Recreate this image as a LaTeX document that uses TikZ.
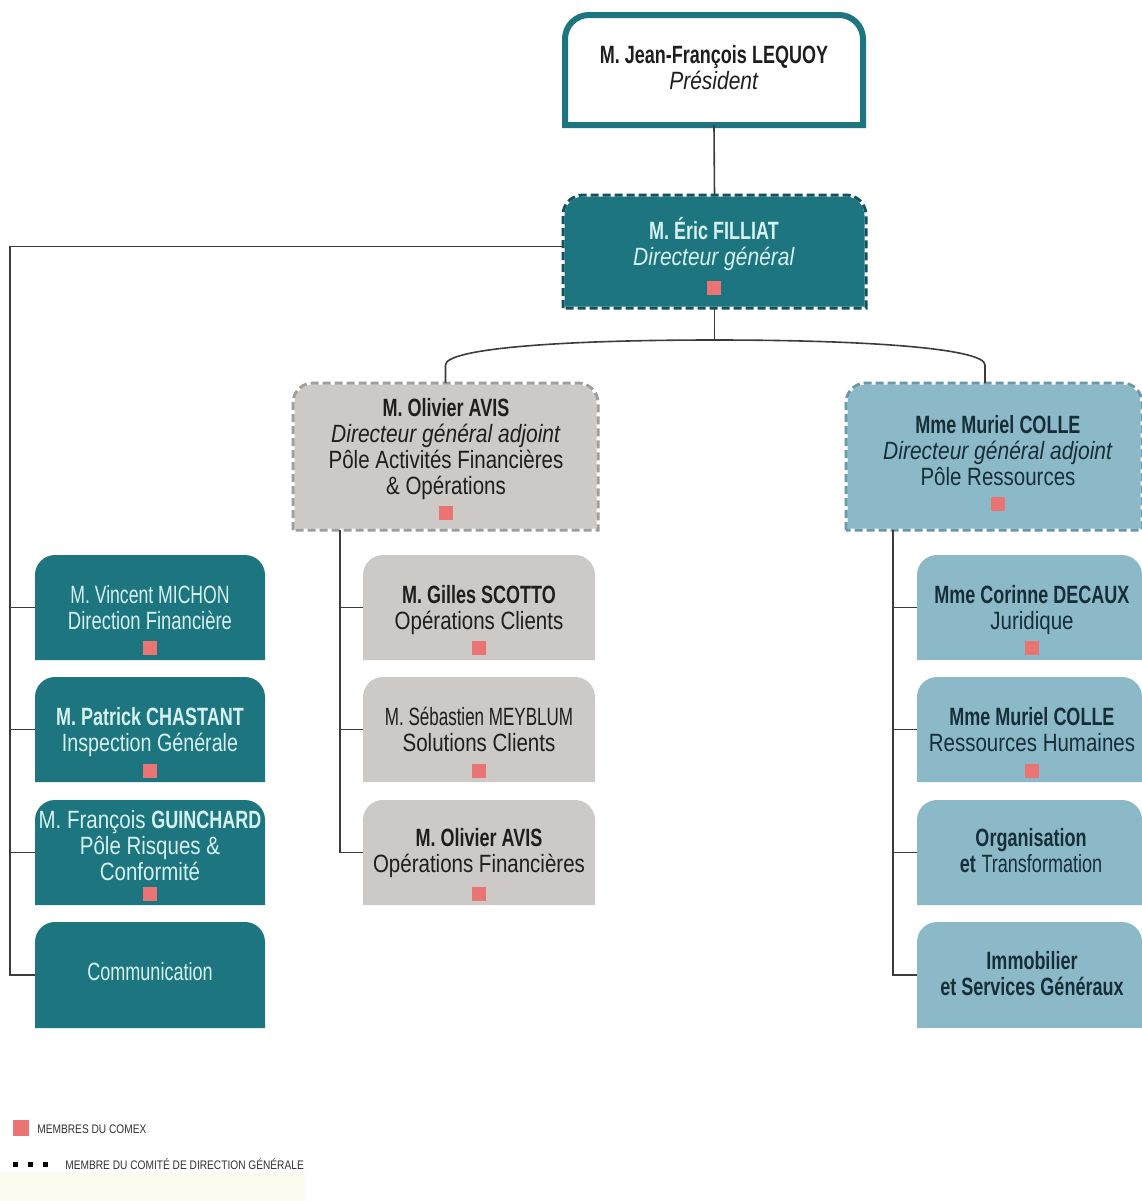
\documentclass[tikz,border=0pt]{standalone}
\usepackage{fontspec}
\setmainfont{Liberation Sans}[UprightFeatures={FakeStretch=0.82},BoldFeatures={FakeStretch=0.72},ItalicFeatures={FakeStretch=0.84}]
\usepackage{xcolor}
\usetikzlibrary{positioning,backgrounds}

\definecolor{sarcelle}{RGB}{29,117,128}
\definecolor{sarcelleF}{RGB}{14,84,94}
\definecolor{grisB}{RGB}{204,201,199}
\definecolor{grisF}{RGB}{160,157,155}
\definecolor{bleuB}{RGB}{140,185,200}
\definecolor{bleuF}{RGB}{104,152,170}
\definecolor{rose}{RGB}{234,115,115}
\definecolor{clair}{RGB}{214,242,240}
\definecolor{fonce}{RGB}{30,30,30}
\definecolor{marine}{RGB}{22,46,56}
\definecolor{trait}{RGB}{60,60,60}
\definecolor{creme}{RGB}{252,251,240}

\newcommand\carre{\textcolor{rose}{\rule{7pt}{7pt}}}
\newcommand\serre[2][0.87]{\scalebox{#1}[1]{#2}}
% tab shape (round top corners) behind a node
\newcommand\onglet[3][10pt]{%
  \begin{pgfonlayer}{background}
  \path[#3] (#2.south west) -- ([yshift=-#1]#2.north west) arc[start angle=180,end angle=90,radius=#1]
    -- ([xshift=-#1]#2.north east) arc[start angle=90,end angle=0,radius=#1] -- (#2.south east) -- cycle;
  \end{pgfonlayer}}
\newcommand\perfore[3]{\onglet{#1}{fill=#2,draw=white,line width=1.5pt}\onglet{#1}{draw=#3,line width=1.5pt,dash pattern=on 4pt off 2pt}}

\begin{document}
\begin{tikzpicture}[x=0.5pt,y=-0.5pt,
  boite/.style={inner sep=0,outer sep=0,minimum height=52.5pt},
  gauche/.style={boite,minimum width=115pt},
  milieu/.style={boite,minimum width=116pt},
  droite/.style={boite,minimum width=112.5pt},
  txt/.style={align=center,inner sep=0,font=\fontsize{12.5}{13}\selectfont},
  legende/.style={anchor=west,inner sep=0,text=black!80,font=\fontsize{6.2}{7}\selectfont},
  lien/.style={draw=trait,line width=0.8pt}]
\useasboundingbox (0,0) rectangle (1142,1201);
\begin{pgfonlayer}{background}
\fill[white] (0,0) rectangle (1142,1201);
\fill[creme] (0,1172) rectangle (305,1201);
\end{pgfonlayer}

% boxes
\node[boite,minimum width=149pt,minimum height=55pt] (pres) at (714,70) {};
\node[boite,minimum width=151.5pt,minimum height=56.5pt] (dg) at (714.5,251.5) {};
\node[boite,minimum width=152.5pt,minimum height=73.5pt] (avis) at (445.5,456.5) {};
\node[boite,minimum width=148pt,minimum height=73.5pt] (colle) at (994,456.5) {};

\node[gauche] (fin) at (150,607.5) {};
\node[gauche] (insp) at (150,729.5) {};
\node[gauche] (risq) at (150,852.5) {};
\node[gauche,minimum height=53pt] (comm) at (150,975) {};

\node[milieu] (scotto) at (479,607.5) {};
\node[milieu] (meyblum) at (479,729.5) {};
\node[milieu] (avop) at (479,852.5) {};

\node[droite] (jur) at (1029.5,607.5) {};
\node[droite] (rh) at (1029.5,729.5) {};
\node[droite] (orga) at (1029.5,852.5) {};
\node[droite,minimum height=53pt] (immo) at (1029.5,975) {};

\onglet[12pt]{pres}{fill=white,draw=sarcelle,line width=3pt}
\perfore{dg}{sarcelle}{sarcelleF}
\perfore{avis}{grisB}{grisF}
\perfore{colle}{bleuB}{bleuF}
\foreach \b in {fin,insp,risq,comm} {\onglet{\b}{fill=sarcelle}}
\foreach \b in {scotto,meyblum,avop} {\onglet{\b}{fill=grisB}}
\foreach \b in {jur,rh,orga,immo} {\onglet{\b}{fill=bleuB}}

% texts
\node[txt,text=fonce] (pres-t) at (714,68) {\textbf{M. Jean-François LEQUOY}\\\textit{Président}};
\node[txt,text=clair] (dg-t) at (714,256) {\textbf{M. Éric FILLIAT}\\\textit{Directeur général}\\[2pt]\carre};
\node[txt,text=fonce] (avis-t) at (446,459) {\textbf{M. Olivier AVIS}\\\textit{Directeur général adjoint}\\Pôle Activités Financières\\\& Opérations\\\carre};
\node[txt,text=marine] (colle-t) at (998,463) {\textbf{Mme Muriel COLLE}\\\textit{Directeur général adjoint}\\Pôle Ressources\\\carre};

\node[txt,text=clair] (fin-t) at (150,620) {\serre[0.86]{M. Vincent MICHON}\\\serre[0.9]{Direction Financière}\\\carre};
\node[txt,text=clair] (insp-t) at (150,742.5) {\textbf{M. Patrick CHASTANT}\\\serre[0.96]{Inspection Générale}\\\carre};
\node[txt,text=clair] (risq-t) at (150,855.5) {M. François \textbf{GUINCHARD}\\Pôle Risques \&\\Conformité\\[-3pt]\carre};
\node[txt,text=clair] (comm-t) at (150,972) {\serre[0.88]{Communication}};

\node[txt,text=fonce] (scotto-t) at (479,620) {\textbf{M. Gilles SCOTTO}\\Opérations Clients\\\carre};
\node[txt,text=fonce] (meyblum-t) at (479,742.5) {\serre[0.83]{M. Sébastien MEYBLUM}\\Solutions Clients\\\carre};
\node[txt,text=fonce] (avop-t) at (479,864.5) {\textbf{M. Olivier AVIS}\\Opérations Financières\\[1pt]\carre};

\node[txt,text=marine] (jur-t) at (1032,620) {\textbf{Mme Corinne DECAUX}\\Juridique\\\carre};
\node[txt,text=marine] (rh-t) at (1032,742.5) {\textbf{Mme Muriel COLLE}\\Ressources Humaines\\\carre};
\node[txt,text=marine] (orga-t) at (1031,851) {\textbf{Organisation}\\\textbf{et} \serre[0.88]{Transformation}};
\node[txt,text=marine] (immo-t) at (1032,974) {\textbf{Immobilier}\\\textbf{et Services Généraux}};

% links
\draw[lien] (pres.south) -- (dg.north);
\coordinate[below=16pt of dg.south] (fourche);
\draw[lien] (dg.south) -- (fourche);
\draw[lien] (avis.north) -- ++(0,-18) .. controls +(0,-16) and +(-160,0) .. (fourche)
  .. controls +(160,0) and +(0,-16) .. ([xshift=-4.5pt,yshift=9pt]colle.north) -- ([xshift=-4.5pt]colle.north);

\coordinate (bus-g) at (10,600);
\draw[lien] ([yshift=2.5pt]dg.west) -| (bus-g) |- (comm.west);
\foreach \b in {fin,insp,risq} \draw[lien] (\b.west) -- (\b.west -| bus-g);

\coordinate (bus-m) at (340,600);
\draw[lien] (avis.south -| bus-m) |- (avop.west);
\foreach \b in {scotto,meyblum} \draw[lien] (\b.west) -- (\b.west -| bus-m);

\coordinate (bus-d) at (893,600);
\draw[lien] (colle.south -| bus-d) |- (immo.west);
\foreach \b in {jur,rh,orga} \draw[lien] (\b.west) -- (\b.west -| bus-d);

% legend
\fill[rose] (13,1120) rectangle (29,1136);
\node[legende] (l-comex) at (37,1129) {MEMBRES DU COMEX};
\foreach \x in {15,30,45} \fill[black] (\x-2.5,1161.5) rectangle +(5,5);
\node[legende] (l-codir) at (65,1164) {MEMBRE DU COMITÉ DE DIRECTION GÉNÉRALE};
\end{tikzpicture}
\end{document}
